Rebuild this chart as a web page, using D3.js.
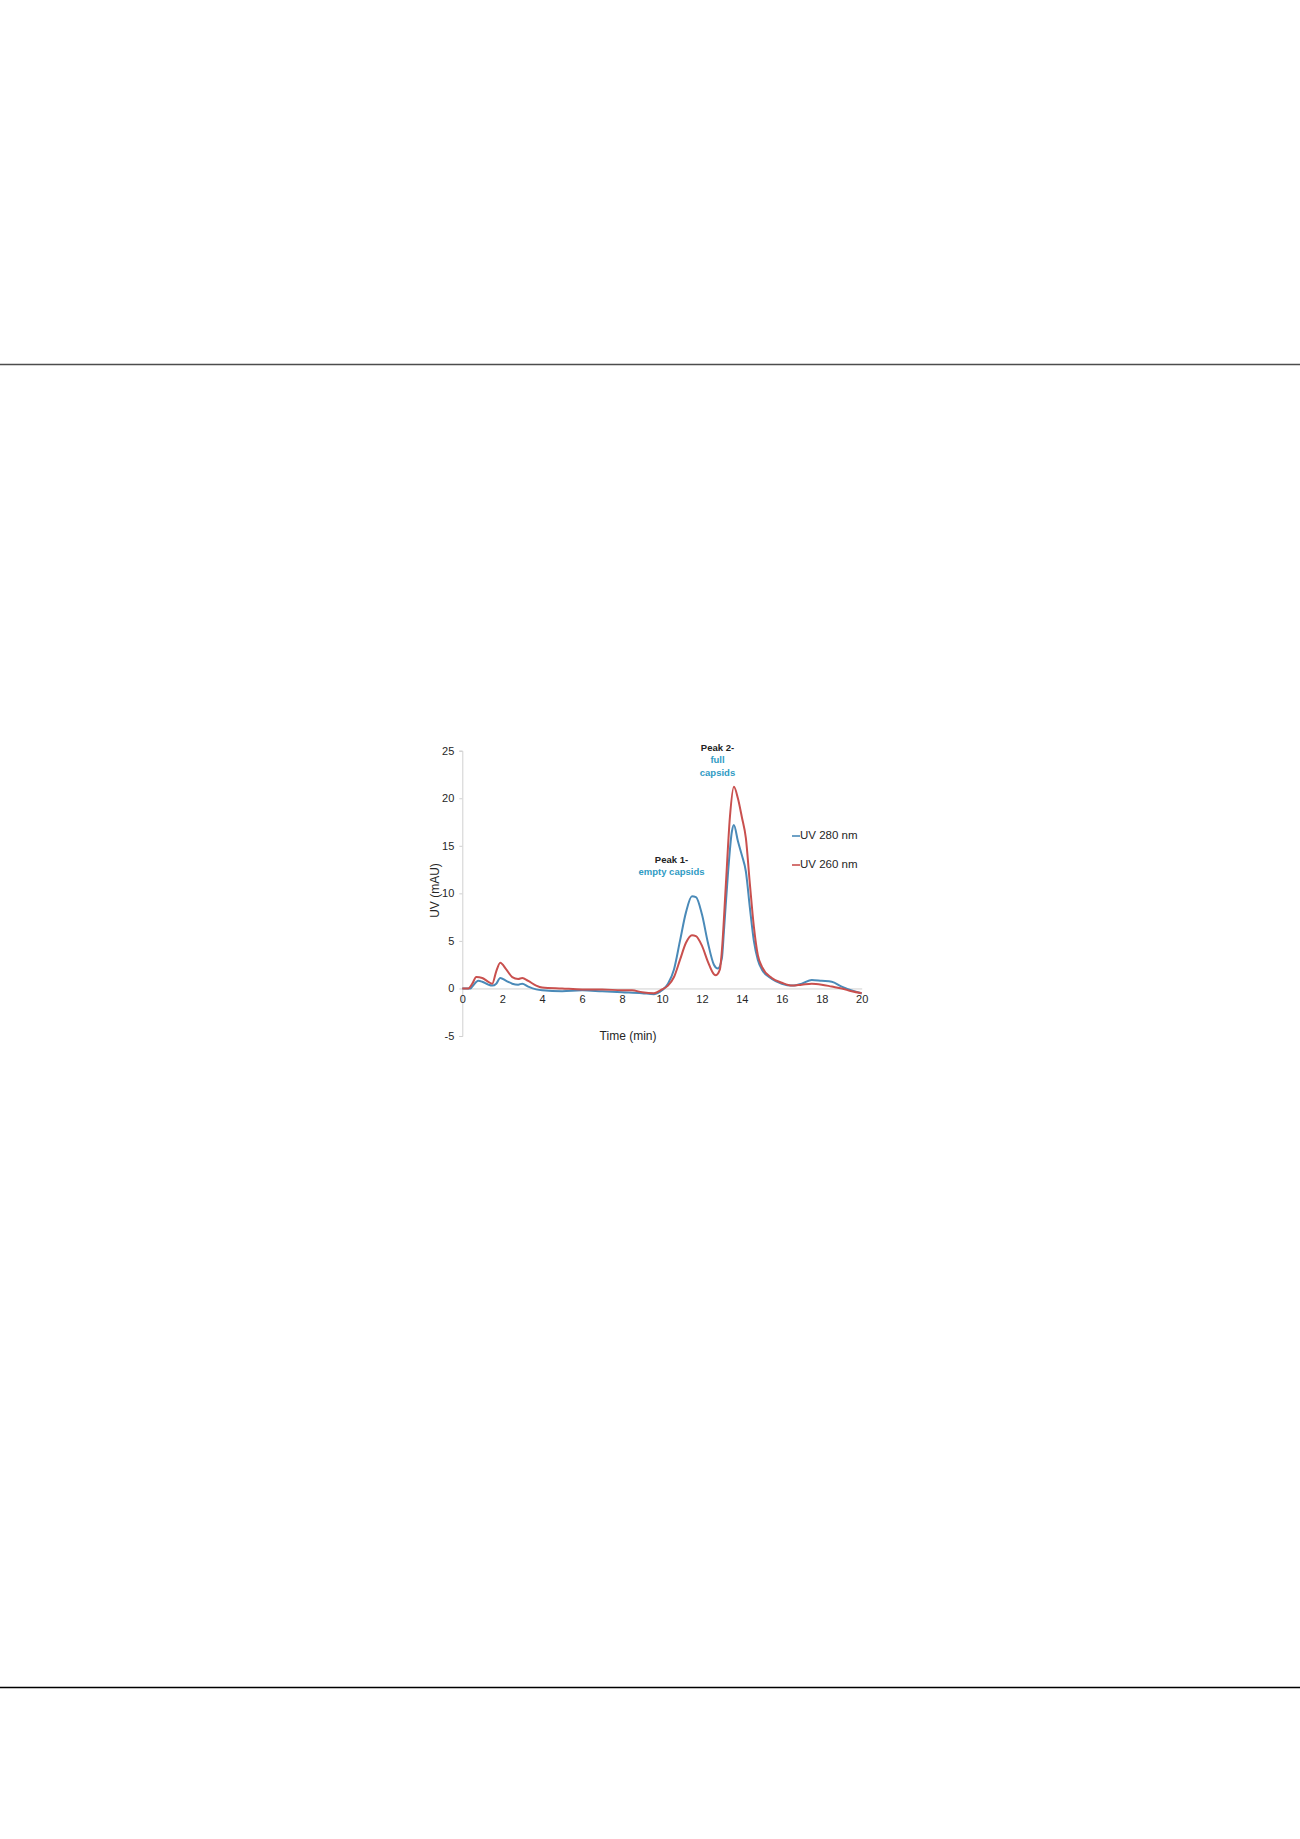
<!DOCTYPE html>
<html>
<head>
<meta charset="utf-8">
<script src="https://cdn.jsdelivr.net/npm/d3@7"></script>
<style>
  html, body { margin: 0; padding: 0; background: #fff; }
  svg { display: block; }
  text { font-family: "Liberation Sans", Arial, sans-serif; }
</style>
</head>
<body>
<svg id="page" width="1300" height="1839"></svg>
<script>
// retention time (min) and absorbance (mAU)
var time280 = [0, 0.4, 0.5, 0.8, 1.0, 1.3, 1.5, 1.7, 1.9, 2.2, 2.5, 2.8, 3.0, 3.3, 3.7, 4, 5, 6, 7, 8, 9, 9.6,
  10, 10.3, 10.6, 10.9, 11.2, 11.5, 11.7, 12, 12.3, 12.6, 12.8, 13.0, 13.1, 13.3, 13.5, 13.6, 13.8, 14.0, 14.2,
  14.4, 14.6, 14.8, 15, 15.5, 16, 16.5, 17, 17.5, 18, 18.5, 19, 19.5, 20];
var uv280 = [0, 0, 0.2, 0.8, 0.7, 0.4, 0.3, 0.5, 1.1, 0.8, 0.5, 0.4, 0.5, 0.2, -0.1, -0.2, -0.3, -0.2, -0.3, -0.4, -0.5, -0.6,
  -0.2, 0.5, 2, 5, 8, 9.7, 9.6, 7.8, 4.8, 2.5, 2.1, 3.2, 6, 12, 16.5, 17.2, 15.5, 14.0, 12.3,
  8.5, 5, 3, 2.0, 1.0, 0.5, 0.3, 0.5, 0.9, 0.8, 0.7, 0.2, -0.2, -0.5];

var time260 = [0, 0.3, 0.5, 0.7, 1.0, 1.3, 1.5, 1.7, 1.9, 2.2, 2.5, 2.8, 3.0, 3.3, 3.7, 4, 5, 6, 7, 8, 8.5, 9, 9.6,
  10, 10.3, 10.6, 10.9, 11.2, 11.5, 11.7, 12, 12.3, 12.6, 12.7, 12.9, 13.0, 13.2, 13.4, 13.6, 13.8, 14.0, 14.2,
  14.4, 14.6, 14.8, 15, 15.5, 16, 16.5, 17, 17.5, 18, 18.5, 19, 19.5, 20];
var uv260 = [0, 0, 0.5, 1.2, 1.1, 0.7, 0.5, 1.8, 2.7, 2.0, 1.2, 1.0, 1.1, 0.8, 0.3, 0.1, 0.0, -0.1, -0.1, -0.2, -0.2, -0.4, -0.5,
  -0.1, 0.3, 1.2, 3.0, 4.8, 5.6, 5.5, 4.5, 2.8, 1.5, 1.4, 2.0, 4, 11, 18, 21.2, 20, 18, 15.8,
  11, 6.5, 3.5, 2.3, 1.1, 0.6, 0.3, 0.4, 0.5, 0.4, 0.2, 0.0, -0.3, -0.5];

var xTicks = [0, 2, 4, 6, 8, 10, 12, 14, 16, 18, 20];
var yTicks = [-5, 0, 5, 10, 15, 20, 25];

var seriesNames = ['UV 280 nm', 'UV 260 nm'];
var seriesColors = ['#4a8ab8', '#c9504e'];

var svg = d3.select('#page');

// page rules
svg.append('line')
  .attr('x1', 0).attr('x2', 1300).attr('y1', 364.5).attr('y2', 364.5)
  .attr('stroke', '#4d4d4d').attr('stroke-width', 1.6);
svg.append('line')
  .attr('x1', 0).attr('x2', 1300).attr('y1', 1687.5).attr('y2', 1687.5)
  .attr('stroke', '#000').attr('stroke-width', 1.6);

var x = d3.scaleLinear().domain([0, 20]).range([462.3, 861.7]);
var y = d3.scaleLinear().domain([-5, 25]).range([1036, 750.7]);

var g = svg.append('g');

// plain hyphen for negatives, like the original
var fmt = function(d) { return String(d); };

// y axis
var yAxis = g.append('g')
  .attr('transform', 'translate(' + x(0) + ',0)')
  .call(d3.axisLeft(y).tickValues(yTicks).tickFormat(fmt).tickSize(3).tickPadding(5));
yAxis.select('.domain').attr('stroke', '#d0d0d0');
yAxis.selectAll('.tick line').attr('stroke', '#d0d0d0');
yAxis.selectAll('.tick text').attr('fill', '#262626').attr('font-size', 11)
  .attr('font-family', '"Liberation Sans", Arial, sans-serif');

// x axis, crossing at zero
var xAxis = g.append('g')
  .attr('transform', 'translate(0,' + y(0) + ')')
  .call(d3.axisBottom(x).tickValues(xTicks).tickFormat(fmt).tickSize(0).tickPadding(7));
xAxis.select('.domain').attr('stroke', '#d0d0d0');
xAxis.selectAll('.tick text').attr('fill', '#262626').attr('font-size', 11)
  .attr('font-family', '"Liberation Sans", Arial, sans-serif');

// traces
var line = d3.line()
  .x(function(d) { return x(d[0]); })
  .y(function(d) { return y(d[1]); })
  .curve(d3.curveMonotoneX);

var traces = [d3.zip(time280, uv280), d3.zip(time260, uv260)];
traces.forEach(function(pts, i) {
  g.append('path')
    .datum(pts)
    .attr('d', line)
    .attr('fill', 'none')
    .attr('stroke', seriesColors[i])
    .attr('stroke-width', 2)
    .attr('stroke-linejoin', 'round');
});

// axis titles
g.append('text')
  .attr('transform', 'translate(436,' + y(10.3) + ') rotate(-90)')
  .attr('text-anchor', 'middle')
  .attr('dominant-baseline', 'middle')
  .attr('font-size', 12)
  .attr('fill', '#262626')
  .text('UV (mAU)');
g.append('text')
  .attr('x', x(8.3)).attr('y', 1040)
  .attr('text-anchor', 'middle')
  .attr('font-size', 12)
  .attr('fill', '#262626')
  .text('Time (min)');

// legend
var legend = g.append('g');
seriesNames.forEach(function(name, i) {
  var ly = 836 + i * 29;
  legend.append('line')
    .attr('x1', 792).attr('x2', 800).attr('y1', ly).attr('y2', ly)
    .attr('stroke', seriesColors[i]).attr('stroke-width', 1.6);
  legend.append('text')
    .attr('x', 800).attr('y', ly)
    .attr('dominant-baseline', 'middle')
    .attr('font-size', 11.5)
    .attr('fill', '#262626')
    .text(name);
});

// peak annotations
var notes = [
  { cx: 671.5, y0: 860.5, lines: [['Peak 1-', '#222'], ['empty capsids', '#2f9bc4']] },
  { cx: 717.5, y0: 748.5, lines: [['Peak 2-', '#222'], ['full', '#2f9bc4'], ['capsids', '#2f9bc4']] }
];
notes.forEach(function(n) {
  n.lines.forEach(function(l, j) {
    g.append('text')
      .attr('x', n.cx).attr('y', n.y0 + j * 12.3)
      .attr('text-anchor', 'middle')
      .attr('dominant-baseline', 'middle')
      .attr('font-size', 9.5)
      .attr('font-weight', 'bold')
      .attr('fill', l[1])
      .text(l[0]);
  });
});
</script>
</body>
</html>
